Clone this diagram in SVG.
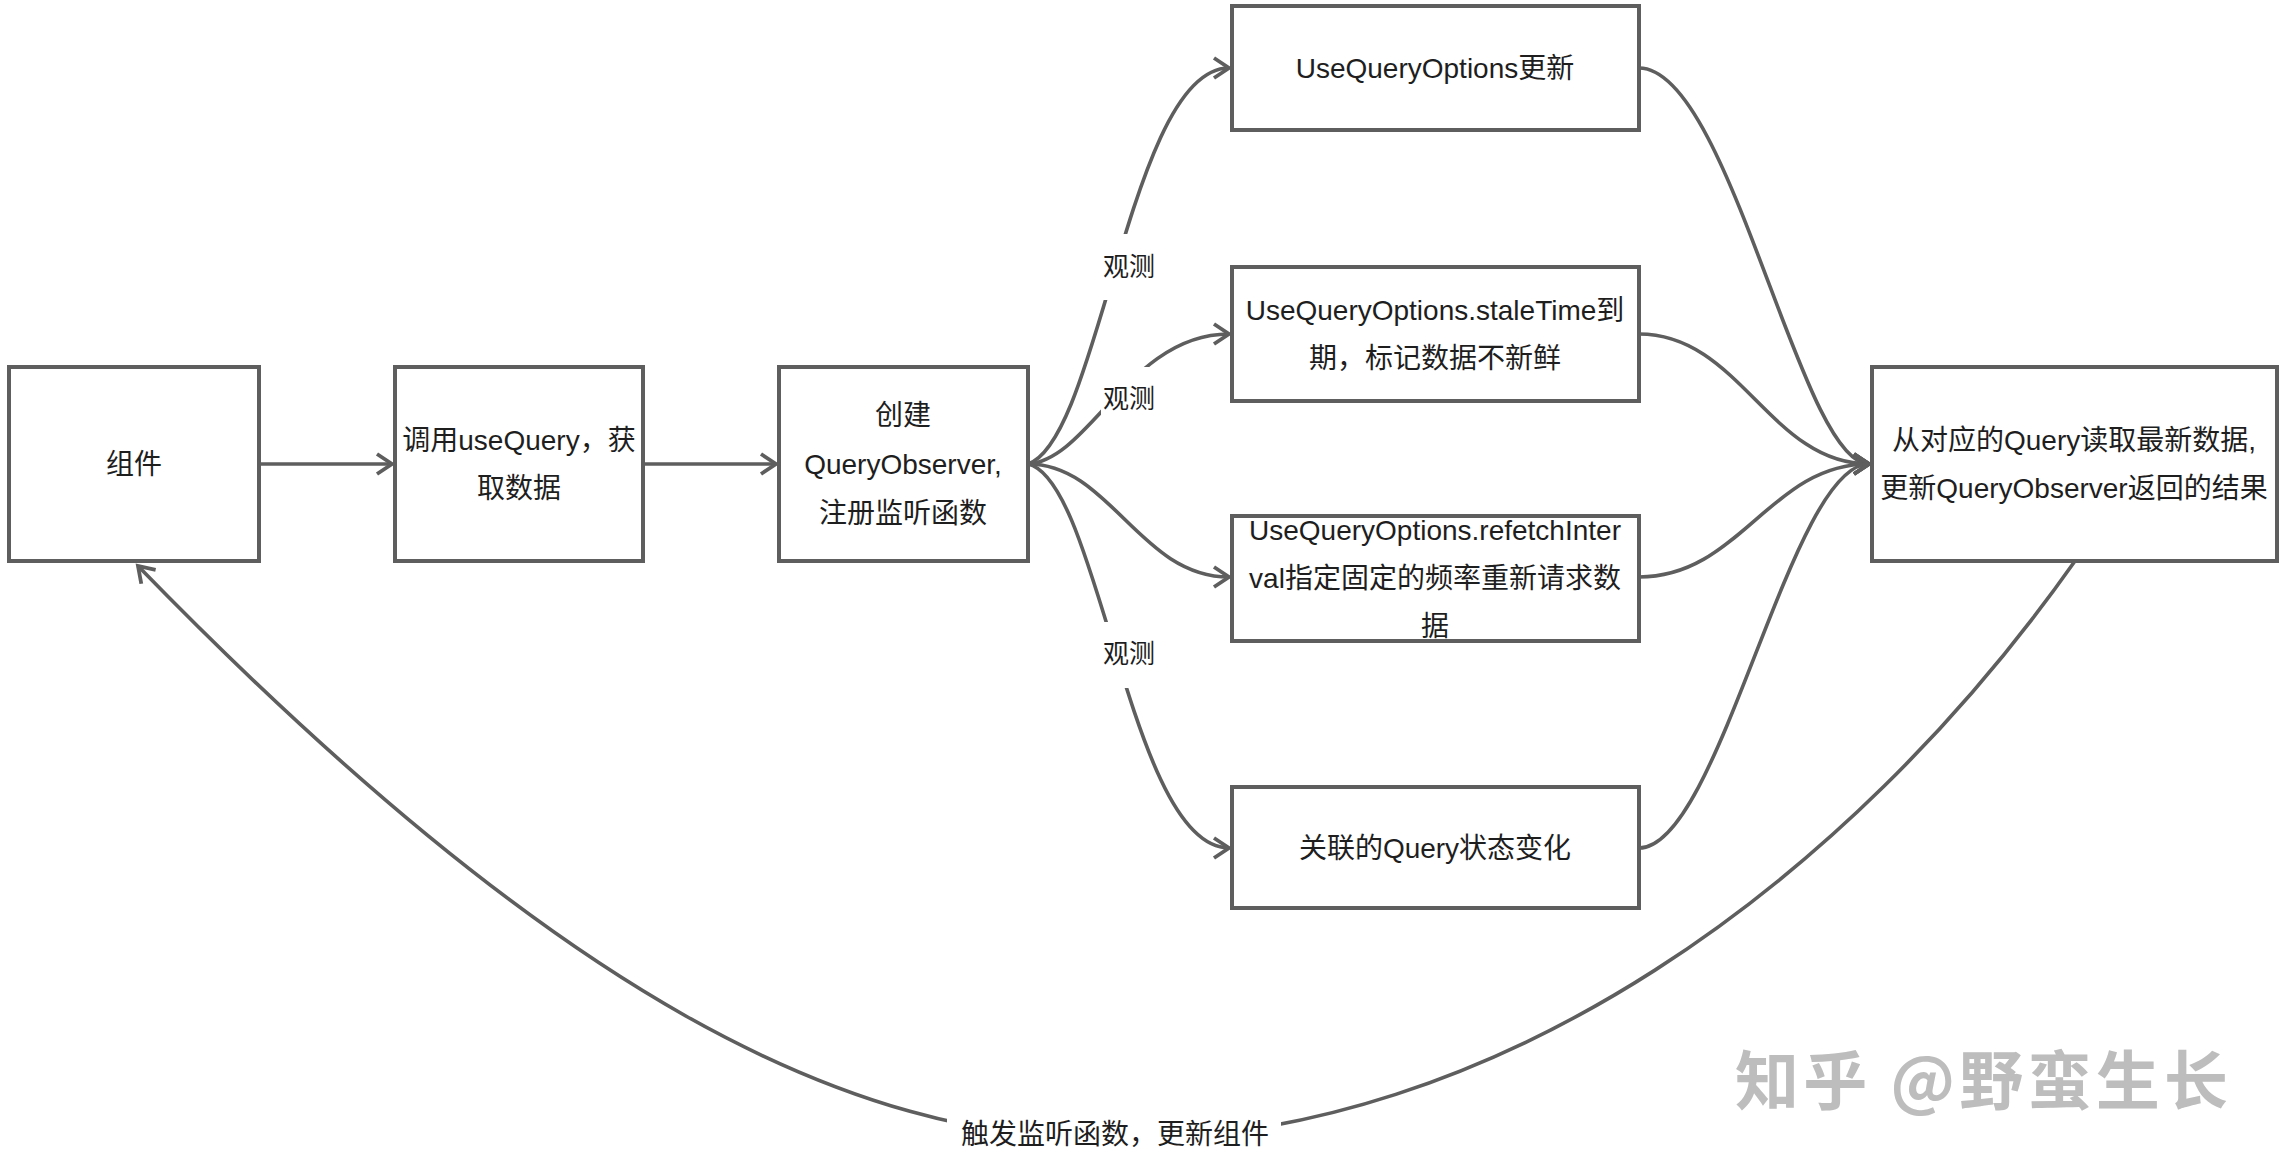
<svg xmlns="http://www.w3.org/2000/svg" width="2286" height="1170" viewBox="0 0 2286 1170">
<style>
.box{fill:#fff;stroke:#5e5e5e;stroke-width:4}
.t{font-family:"Liberation Sans","Noto Sans CJK SC",sans-serif;font-size:28px;fill:#1e1e1e;text-anchor:middle;dominant-baseline:central}
.lb{font-family:"Liberation Sans","Noto Sans CJK SC",sans-serif;font-size:26px;fill:#1e1e1e;text-anchor:middle;dominant-baseline:central}
.e{fill:none;stroke:#5e5e5e;stroke-width:3.6;marker-end:url(#arr)}
.bg{fill:#fff}
.wm{font-family:"Noto Sans CJK SC",sans-serif;font-size:64px;font-weight:bold;fill:#bdbdbd}
</style>
<defs>
<marker id="arr" viewBox="-18 -12 22 24" markerWidth="22" markerHeight="24" refX="0" refY="0" orient="auto" markerUnits="userSpaceOnUse">
<path d="M-15,-10 L0,0 L-15,10" fill="none" stroke="#5e5e5e" stroke-width="3.8"/>
</marker>
</defs>
<rect width="2286" height="1170" fill="#fff"/>
<g id="connectors">
<path class="e" d="M259,464 L392,464"/>
<path class="e" d="M643,464 L776,464"/>
<path class="e" d="M1028,464 C1090,460 1130,334 1229,334"/>
<rect class="bg" x="1101" y="367" width="56" height="66"/>
<text class="lb" x="1129" y="399">观测</text>
<path class="e" d="M1028,464 C1100,440 1130,68 1229,68"/>
<rect class="bg" x="1101" y="234" width="56" height="66"/>
<text class="lb" x="1129" y="267">观测</text>
<path class="e" d="M1028,464 C1110,464 1140,577 1229,577"/>
<path class="e" d="M1028,464 C1100,480 1130,848 1229,848"/>
<rect class="bg" x="1101" y="622" width="56" height="66"/>
<text class="lb" x="1129" y="654">观测</text>
<path class="e" d="M1639,68 C1730,68 1800,464 1869,464"/>
<path class="e" d="M1639,334 C1740,334 1770,464 1869,464"/>
<path class="e" d="M1639,577 C1740,577 1770,464 1869,464"/>
<path class="e" d="M1639,848 C1720,848 1790,464 1869,464"/>
<path class="e" d="M2075,561 C1850,880 1500,1140 1115,1140 C850,1140 560,1000 138,566"/>
<rect class="bg" x="947" y="1106" width="334" height="56"/>
<text class="t" x="1115" y="1134">触发监听函数，更新组件</text>
</g>
<g id="n1"><rect class="box" x="9" y="367" width="250" height="194"/><text class="t" x="134" y="464">组件</text></g>
<g id="n2"><rect class="box" x="395" y="367" width="248" height="194"/><text class="t" x="519" y="440">调用useQuery，获</text><text class="t" x="519" y="488">取数据</text></g>
<g id="n3"><rect class="box" x="779" y="367" width="249" height="194"/><text class="t" x="903" y="415">创建</text><text class="t" x="903" y="464">QueryObserver,</text><text class="t" x="903" y="513">注册监听函数</text></g>
<g id="n4"><rect class="box" x="1232" y="6" width="407" height="124"/><text class="t" x="1435" y="68">UseQueryOptions更新</text></g>
<g id="n5"><rect class="box" x="1232" y="267" width="407" height="134"/><text class="t" x="1435" y="310">UseQueryOptions.staleTime到</text><text class="t" x="1435" y="358">期，标记数据不新鲜</text></g>
<g id="n6"><rect class="box" x="1232" y="516" width="407" height="125"/><text class="t" x="1435" y="530">UseQueryOptions.refetchInter</text><text class="t" x="1435" y="578">val指定固定的频率重新请求数</text><text class="t" x="1435" y="626">据</text></g>
<g id="n7"><rect class="box" x="1232" y="787" width="407" height="121"/><text class="t" x="1435" y="848">关联的Query状态变化</text></g>
<g id="n8"><rect class="box" x="1872" y="367" width="405" height="194"/><text class="t" x="2074" y="440">从对应的Query读取最新数据,</text><text class="t" x="2074" y="488">更新QueryObserver返回的结果</text></g>
<text class="wm" x="1735" y="1104" textLength="493" lengthAdjust="spacing">知乎 @野蛮生长</text>
</svg>
